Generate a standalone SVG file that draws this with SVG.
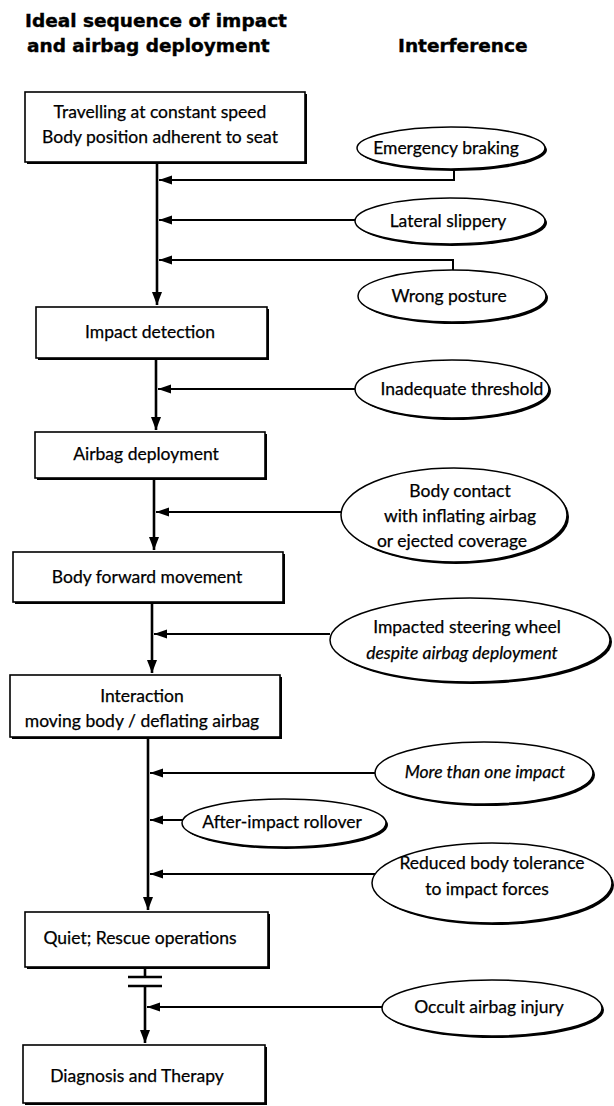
<svg xmlns="http://www.w3.org/2000/svg" width="614" height="1106" viewBox="0 0 614 1106">
  <defs>
    <marker id="ah" markerUnits="userSpaceOnUse" markerWidth="14" markerHeight="10" refX="13" refY="5" orient="auto">
      <path d="M0,0 L13,5 L0,10 z" fill="#000"/>
    </marker>
    <marker id="ahl" markerUnits="userSpaceOnUse" markerWidth="14" markerHeight="10" refX="13" refY="5" orient="auto">
      <path d="M0,0.5 L13,5 L0,9.5 z" fill="#000"/>
    </marker>
  </defs>
  <style>
    .hd { font-family: "DejaVu Sans", "Liberation Sans", sans-serif; font-weight: bold; font-size: 18.5px; fill: #000; stroke: #000; stroke-width: 0.4; }
    .t { font-family: "Lato", "Open Sans", sans-serif; font-size: 17.5px; fill: #000; stroke: #000; stroke-width: 0.25; text-anchor: middle; }
    .i { font-style: italic; }
    .box { fill: #fff; stroke: #000; stroke-width: 1.6; }
    .sh { fill: #000; }
    .el { fill: #fff; stroke: #000; stroke-width: 1.5; }
    .main { fill: none; stroke: #000; stroke-width: 2.6; }
    .conn { fill: none; stroke: #000; stroke-width: 2; }
    .brk { stroke: #000; stroke-width: 2.4; }
  </style>
  <rect width="614" height="1106" fill="#fff"/>

  <g id="headers">
    <text class="hd" x="25" y="27">Ideal sequence of impact</text>
    <text class="hd" x="27" y="52">and airbag deployment</text>
    <text class="hd" x="398" y="52">Interference</text>
  </g>

  <g id="connectors">
    <path class="main" d="M157,162 V305" marker-end="url(#ah)"/>
    <path class="main" d="M156,358 V430" marker-end="url(#ah)"/>
    <path class="main" d="M154,478 V550" marker-end="url(#ah)"/>
    <path class="main" d="M152,602 V673" marker-end="url(#ah)"/>
    <path class="main" d="M148,737 V910" marker-end="url(#ah)"/>
    <path class="main" d="M145,967 V976"/>
    <line class="brk" x1="128" y1="977" x2="162" y2="977"/>
    <line class="brk" x1="128" y1="986" x2="162" y2="986"/>
    <path class="main" d="M145,986 V1043" marker-end="url(#ah)"/>
    <path class="conn" d="M454,169 V180 H159" marker-end="url(#ahl)"/>
    <path class="conn" d="M355,220 H159" marker-end="url(#ahl)"/>
    <path class="conn" d="M453,271 V260 H159" marker-end="url(#ahl)"/>
    <path class="conn" d="M355,389 H158" marker-end="url(#ahl)"/>
    <path class="conn" d="M341,512 H156" marker-end="url(#ahl)"/>
    <path class="conn" d="M330,634 H154" marker-end="url(#ahl)"/>
    <path class="conn" d="M375,773 H150" marker-end="url(#ahl)"/>
    <path class="conn" d="M183,820 H150" marker-end="url(#ahl)"/>
    <path class="conn" d="M375,874 H150" marker-end="url(#ahl)"/>
    <path class="conn" d="M382,1007 H147" marker-end="url(#ahl)"/>
  </g>

  <g id="n1">
    <rect class="sh" x="27" y="94" width="280" height="70"/>
    <rect class="box" x="25" y="92" width="280" height="70"/>
    <text class="t" x="160" y="118">Travelling at constant speed</text>
    <text class="t" x="160" y="143">Body position adherent to seat</text>
  </g>
  <g id="n2">
    <rect class="sh" x="38" y="309" width="231" height="51"/>
    <rect class="box" x="36" y="307" width="231" height="51"/>
    <text class="t" x="150" y="338">Impact detection</text>
  </g>
  <g id="n3">
    <rect class="sh" x="37" y="434" width="230" height="46"/>
    <rect class="box" x="35" y="432" width="230" height="46"/>
    <text class="t" x="146" y="460">Airbag deployment</text>
  </g>
  <g id="n4">
    <rect class="sh" x="15" y="554" width="270" height="50"/>
    <rect class="box" x="13" y="552" width="270" height="50"/>
    <text class="t" x="147" y="583">Body forward movement</text>
  </g>
  <g id="n5">
    <rect class="sh" x="12" y="677" width="270" height="62"/>
    <rect class="box" x="10" y="675" width="270" height="62"/>
    <text class="t" x="142" y="702">Interaction</text>
    <text class="t" x="142" y="727">moving body / deflating airbag</text>
  </g>
  <g id="n6">
    <rect class="sh" x="27" y="914" width="243" height="55"/>
    <rect class="box" x="25" y="912" width="243" height="55"/>
    <text class="t" x="140" y="944">Quiet; Rescue operations</text>
  </g>
  <g id="n7">
    <rect class="sh" x="25" y="1047" width="242" height="58"/>
    <rect class="box" x="23" y="1045" width="242" height="58"/>
    <text class="t" x="137" y="1082">Diagnosis and Therapy</text>
  </g>

  <g id="e1">
    <ellipse class="sh" cx="453" cy="150" rx="94" ry="21"/>
    <ellipse class="el" cx="451" cy="148" rx="94" ry="21"/>
    <text class="t" x="446" y="154">Emergency braking</text>
  </g>
  <g id="e2">
    <ellipse class="sh" cx="452" cy="223" rx="95" ry="23"/>
    <ellipse class="el" cx="450" cy="221" rx="95" ry="23"/>
    <text class="t" x="448" y="227">Lateral slippery</text>
  </g>
  <g id="e3">
    <ellipse class="sh" cx="454" cy="298" rx="94" ry="26"/>
    <ellipse class="el" cx="452" cy="296" rx="94" ry="26"/>
    <text class="t" x="449" y="302">Wrong posture</text>
  </g>
  <g id="e4">
    <ellipse class="sh" cx="454" cy="391" rx="97" ry="29"/>
    <ellipse class="el" cx="452" cy="389" rx="97" ry="29"/>
    <text class="t" x="462" y="395">Inadequate threshold</text>
  </g>
  <g id="e5">
    <ellipse class="sh" cx="456" cy="517" rx="113" ry="47"/>
    <ellipse class="el" cx="454" cy="515" rx="113" ry="47"/>
    <text class="t" x="460" y="497">Body contact</text>
    <text class="t" x="460" y="522">with inflating airbag</text>
    <text class="t" x="452" y="547">or ejected coverage</text>
  </g>
  <g id="e6">
    <ellipse class="sh" cx="472" cy="642" rx="140" ry="42"/>
    <ellipse class="el" cx="470" cy="640" rx="140" ry="42"/>
    <text class="t" x="467" y="633">Impacted steering wheel</text>
    <text class="t i" x="462" y="659">despite airbag deployment</text>
  </g>
  <g id="e7">
    <ellipse class="sh" cx="486" cy="775" rx="109" ry="31"/>
    <ellipse class="el" cx="484" cy="773" rx="109" ry="31"/>
    <text class="t i" x="485" y="778">More than one impact</text>
  </g>
  <g id="e8">
    <ellipse class="sh" cx="286" cy="825" rx="102" ry="24"/>
    <ellipse class="el" cx="284" cy="823" rx="102" ry="24"/>
    <text class="t" x="282" y="828">After-impact rollover</text>
  </g>
  <g id="e9">
    <ellipse class="sh" cx="494" cy="885" rx="120" ry="40"/>
    <ellipse class="el" cx="492" cy="883" rx="120" ry="40"/>
    <text class="t" x="492" y="869">Reduced body tolerance</text>
    <text class="t" x="487" y="895">to impact forces</text>
  </g>
  <g id="e10">
    <ellipse class="sh" cx="494" cy="1010" rx="110" ry="28"/>
    <ellipse class="el" cx="492" cy="1008" rx="110" ry="28"/>
    <text class="t" x="489" y="1013">Occult airbag injury</text>
  </g>
</svg>
